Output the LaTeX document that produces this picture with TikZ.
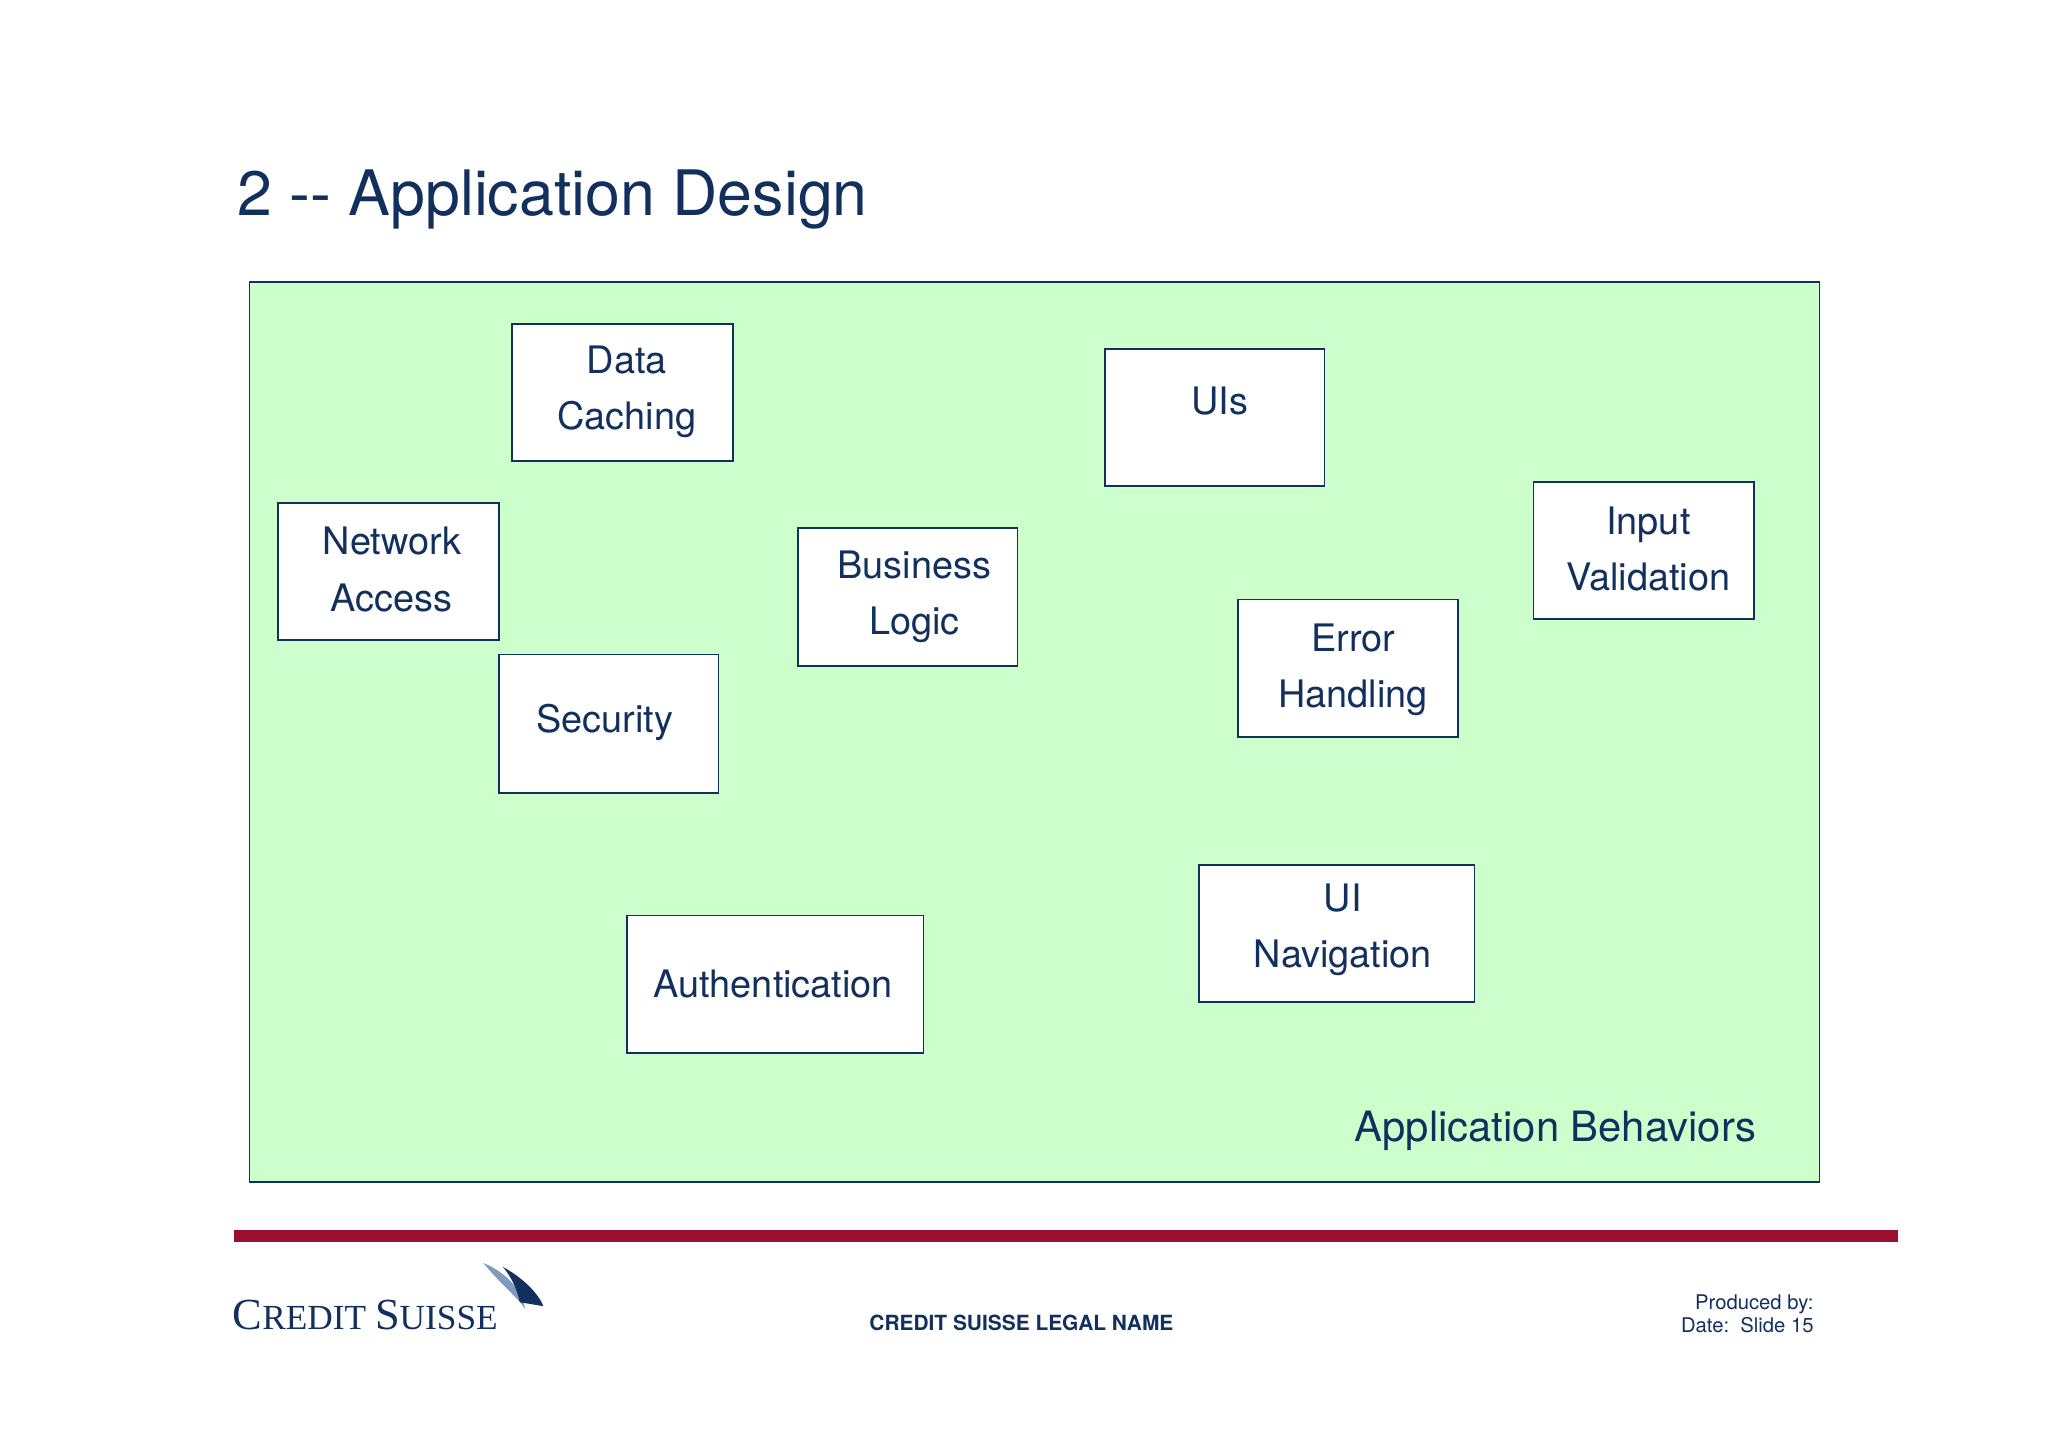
\documentclass[tikz,border=0pt]{standalone}
\usepackage{fontspec}
\setmainfont{TeX Gyre Heros}
\newfontfamily\serifcs{Liberation Serif}
\definecolor{navy}{HTML}{12305E}
\definecolor{boxgreen}{HTML}{CCFFCC}
\definecolor{csred}{HTML}{9B0E2E}
\definecolor{sailA}{HTML}{7F9CBC}
\definecolor{sailB}{HTML}{12305E}
\begin{document}
\begin{tikzpicture}[x=1pt,y=-1pt,
  item/.style={draw=navy,line width=1.3pt,fill=white},
  lbl/.style={text=navy,align=center,font=\fontsize{29}{43}\selectfont}]
\useasboundingbox (0,0) rectangle (1568,1109);
\node[anchor=west,text=navy,font=\fontsize{48}{58}\selectfont] (title) at (178,153) {2 -{}- Application Design};
\draw[draw=navy,line width=1.3pt,fill=boxgreen] (191,216) rectangle (1393,905);
\node[anchor=east,text=navy,font=\fontsize{32}{38}\selectfont] (ab) at (1348,866) {Application Behaviors};
% boxes
\draw[item] (392,248) rectangle (561,353); \node[lbl] (dc) at (480,300) {Data\\Caching};
\draw[item] (846,267) rectangle (1014,372); \node[lbl] (uis) at (934,307) {UIs};
\draw[item] (213,385) rectangle (382,490); \node[lbl] (na) at (300,436) {Network\\Access};
\draw[item] (611,404) rectangle (779,510); \node[lbl] (bl) at (700,457) {Business\\Logic};
\draw[item] (1174,369) rectangle (1343,474); \node[lbl] (iv) at (1262,420) {Input\\Validation};
\draw[item] (948,459) rectangle (1116,564); \node[lbl] (eh) at (1036,513) {Error\\Handling};
\draw[item] (382,501) rectangle (550,607); \node[lbl] (sec) at (463,553) {Security};
\draw[item] (918,662) rectangle (1129,767); \node[lbl] (uin) at (1028,712) {UI\\Navigation};
\draw[item] (480,701) rectangle (707,806); \node[lbl] (auth) at (592,753) {Authentication};
% footer
\fill[csred] (179,942) rectangle (1453,951);
\node[anchor=base west,text=navy,inner sep=0,font=\serifcs\fontsize{34}{40}\selectfont] (cs) at (178,1018) {C\fontsize{27}{30}\selectfont REDIT \fontsize{34}{40}\selectfont S\fontsize{27}{30}\selectfont UISSE};
\fill[sailA] (370,967) .. controls (390,975) and (400,990) .. (402,1002) .. controls (395,992) and (385,985) .. (370,967) -- cycle;
\fill[sailB] (385,970) .. controls (400,978) and (412,990) .. (416,1000) -- (398,997) .. controls (396,988) and (392,978) .. (385,970) -- cycle;
\node[text=navy,font=\bfseries\fontsize{16}{19}\selectfont] (legal) at (782,1013) {CREDIT SUISSE LEGAL NAME};
\node[anchor=east,text=navy,align=right,font=\fontsize{15.5}{18}\selectfont] (prod) at (1392,1006) {Produced by:\\Date:\ \ Slide 15};
\end{tikzpicture}
\end{document}
